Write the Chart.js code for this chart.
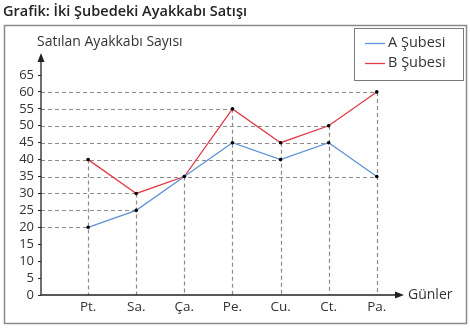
<!DOCTYPE html>
<html>
<head>
<meta charset="utf-8">
<script src="https://cdn.jsdelivr.net/npm/chart.js@4/dist/chart.umd.min.js"></script>
<style>
  html, body { margin: 0; padding: 0; background: #fff; }
  #wrap { width: 470px; height: 330px; }
</style>
</head>
<body>
<div id="wrap"><canvas id="chart" width="470" height="330"></canvas></div>
<script>
// Günlere göre iki şubenin ayakkabı satışları
const days = ['Pt.', 'Sa.', 'Ça.', 'Pe.', 'Cu.', 'Ct.', 'Pa.'];
const salesA = [20, 25, 35, 45, 40, 45, 35];
const salesB = [40, 30, 35, 55, 45, 50, 60];
const seriesNames = ['A Şubesi', 'B Şubesi'];

const FONT = "'Open Sans', 'Noto Sans', sans-serif";
const TEXT = '#333';

const toPoints = arr => arr.map((v, i) => ({ x: i, y: v }));

// Noktalardan eksenlere kesikli yardımcı çizgiler
const guideLines = {
    id: 'guideLines',
    beforeDatasetsDraw(chart) {
        const { ctx, chartArea, scales } = chart;
        const xs = scales.x, ys = scales.y;
        const colTop = {};
        const rowRight = {};
        chart.data.datasets.forEach(ds => {
            ds.data.forEach(p => {
                colTop[p.x] = Math.max(colTop[p.x] || 0, p.y);
                rowRight[p.y] = Math.max(rowRight[p.y] === undefined ? -Infinity : rowRight[p.y], p.x);
            });
        });
        ctx.save();
        ctx.strokeStyle = '#8c8c8c';
        ctx.lineWidth = 1.2;
        ctx.setLineDash([4, 3]);
        Object.keys(rowRight).forEach(v => {
            const y = Math.round(ys.getPixelForValue(+v)) + 0.5;
            ctx.beginPath();
            ctx.moveTo(chartArea.left, y);
            ctx.lineTo(xs.getPixelForValue(rowRight[v]), y);
            ctx.stroke();
        });
        Object.keys(colTop).forEach(i => {
            const x = Math.round(xs.getPixelForValue(+i)) + 0.5;
            ctx.beginPath();
            ctx.moveTo(x, ys.getPixelForValue(colTop[i]));
            ctx.lineTo(x, chartArea.bottom);
            ctx.stroke();
        });
        ctx.restore();
    }
};

// Çerçeve, başlık, eksen okları, eksen adları ve lejant
const decorations = {
    id: 'decorations',
    afterDraw(chart) {
        const { ctx, chartArea } = chart;
        const left = chartArea.left, bottom = chartArea.bottom;
        ctx.save();

        // dış çerçeve
        ctx.strokeStyle = '#8a8a8a';
        ctx.lineWidth = 1.5;
        ctx.strokeRect(4.5, 25.5, 462, 298);

        // başlık
        ctx.fillStyle = '#222';
        ctx.font = '600 14.5px ' + FONT;
        ctx.textBaseline = 'middle';
        ctx.textAlign = 'left';
        ctx.fillText('Grafik: İki Şubedeki Ayakkabı Satışı', 3, 12);

        // eksenler ve oklar
        ctx.strokeStyle = '#222';
        ctx.fillStyle = '#222';
        ctx.lineWidth = 1.3;
        ctx.beginPath();
        ctx.moveTo(left, bottom);
        ctx.lineTo(left, 58);
        ctx.moveTo(left, bottom);
        ctx.lineTo(chartArea.right + 3, bottom);
        ctx.stroke();
        ctx.beginPath();
        ctx.moveTo(left, 53);
        ctx.lineTo(left - 3.5, 62);
        ctx.lineTo(left + 3.5, 62);
        ctx.closePath();
        ctx.fill();
        ctx.beginPath();
        ctx.moveTo(chartArea.right + 8, bottom);
        ctx.lineTo(chartArea.right - 1, bottom - 3.5);
        ctx.lineTo(chartArea.right - 1, bottom + 3.5);
        ctx.closePath();
        ctx.fill();

        // eksen adları
        ctx.fillStyle = TEXT;
        ctx.font = '14px ' + FONT;
        ctx.fillText('Satılan Ayakkabı Sayısı', 37, 42);
        ctx.fillText('Günler', chartArea.right + 12, bottom);

        // lejant
        ctx.strokeStyle = '#7a7a7a';
        ctx.lineWidth = 1;
        ctx.strokeRect(354.5, 28.5, 109, 52);
        ctx.font = '14.5px ' + FONT;
        chart.data.datasets.forEach((ds, i) => {
            const y = 43 + i * 20;
            ctx.strokeStyle = ds.borderColor;
            ctx.lineWidth = 1.3;
            ctx.beginPath();
            ctx.moveTo(365, y + 0.5);
            ctx.lineTo(385, y + 0.5);
            ctx.stroke();
            ctx.fillStyle = TEXT;
            ctx.fillText(ds.label, 388, y);
        });
        ctx.restore();
    }
};

new Chart(document.getElementById('chart'), {
    type: 'line',
    data: {
        datasets: [
            {
                label: seriesNames[0],
                data: toPoints(salesA),
                borderColor: '#5e93d6',
                borderWidth: 1.3,
                pointRadius: 1.8,
                pointBackgroundColor: '#000',
                pointBorderWidth: 0,
                tension: 0
            },
            {
                label: seriesNames[1],
                data: toPoints(salesB),
                borderColor: '#e03a44',
                borderWidth: 1.3,
                pointRadius: 1.8,
                pointBackgroundColor: '#000',
                pointBorderWidth: 0,
                tension: 0
            }
        ]
    },
    options: {
        responsive: false,
        animation: false,
        layout: { padding: { left: 0, top: 75, right: 74, bottom: 0 } },
        plugins: {
            legend: { display: false },
            tooltip: { enabled: false }
        },
        scales: {
            x: {
                type: 'linear',
                min: -0.98,
                max: 6.4,
                afterFit: s => { s.height = 35; },
                afterBuildTicks: s => { s.ticks = days.map((d, i) => ({ value: i })); },
                grid: { display: false, drawTicks: false },
                border: { display: false },
                ticks: {
                    autoSkip: false,
                    maxRotation: 0,
                    padding: 4,
                    color: TEXT,
                    font: { family: FONT, size: 13.5 },
                    callback: v => days[v] || ''
                }
            },
            y: {
                min: 0,
                max: 65,
                afterFit: s => { s.width = 41; },
                grid: { drawOnChartArea: false, tickLength: 3, color: '#222', lineWidth: 1 },
                border: { display: false },
                ticks: {
                    stepSize: 5,
                    autoSkip: false,
                    padding: 4,
                    color: TEXT,
                    font: { family: FONT, size: 13 }
                }
            }
        }
    },
    plugins: [guideLines, decorations]
});
</script>
</body>
</html>
